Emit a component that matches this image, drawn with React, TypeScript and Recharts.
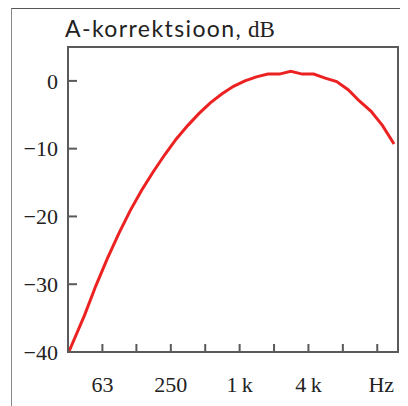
import React from "react";
import { LineChart, Line, XAxis, YAxis, ReferenceArea, CartesianGrid } from "recharts";

// A-weighting correction, read per third-octave step
const freqHz = [
  32, 43.9, 55.3, 69.7, 87.8, 110.6, 139.3, 175.5, 221, 278, 351, 442, 557,
  702, 884, 1113, 1402, 1767, 2226, 2804, 3533, 4451, 5608, 7066, 8903,
  11217, 14132, 17805, 22433,
];
const gainDb = [
  -40, -34.6, -30.2, -26.2, -22.5, -19.1, -16.1, -13.4, -10.9, -8.6, -6.6,
  -4.8, -3.2, -1.9, -0.8, 0, 0.6, 1.0, 1.0, 1.4, 1.0, 1.0, 0.4, -0.1, -1.3,
  -3.0, -4.5, -6.6, -9.3,
];

const xTicks = [63, 125, 250, 500, 1000, 2000, 4000, 8000, 16000];
const xTickLabels: Record<number, string> = {
  63: "63",
  250: "250",
  1000: "1\u2009k",
  4000: "4\u2009k",
  16000: "Hz",
};
const yTicks = [0, -10, -20, -30, -40];

const data = freqHz.map((f, i) => ({ f, db: gainDb[i] }));

const X_DOMAIN: [number, number] = [31.5, 24300];
const Y_DOMAIN: [number, number] = [-40, 5];
const AXIS = "#5a5a5a";
const SERIF = "'Liberation Serif', 'DejaVu Serif', serif";

const fmtDb = (v: number) => (v < 0 ? `\u2212${Math.abs(v)}` : String(v));
const fmtHz = (v: number) => xTickLabels[v] ?? "";

// inward tick mark + label on the left side
function YTick(props: any) {
  const { x, y, payload } = props;
  return (
    <g>
      <rect x={x} y={y - 1} width={9} height={2} fill={AXIS} />
      <text x={x - 10} y={y} dy="0.35em" textAnchor="end" fill="#222">
        {fmtDb(payload.value)}
      </text>
    </g>
  );
}

// inward tick mark + label below the plot
function XTick(props: any) {
  const { x, y, payload } = props;
  const label = fmtHz(payload.value);
  return (
    <g>
      <rect x={x - 1} y={y - 8} width={2} height={8} fill={AXIS} />
      <text x={label === "Hz" ? x + 4 : x} y={y + 40} textAnchor="middle" fill="#222">
        {label}
      </text>
    </g>
  );
}

export default function App() {
  return (
    <div style={{ margin: -8, width: 408, height: 406, fontFamily: SERIF, fontSize: 22 }}>
      <div
        style={{
          marginLeft: 11,
          marginTop: 8,
          width: 396,
          height: 397,
          borderTop: "1px solid #555",
          borderLeft: "1px solid #888",
        }}
      >
        <div
          style={{
            paddingTop: 4,
            paddingLeft: 53,
            height: 30,
            lineHeight: "30px",
            fontSize: 23,
            color: "#222",
            whiteSpace: "nowrap",
          }}
        >
          <span style={{ fontFamily: "Lato, 'Open Sans', sans-serif", letterSpacing: 1.4 }}>
            A-korrektsioon,
          </span>{" "}
          <span>dB</span>
        </div>
        <LineChart
          width={396}
          height={363}
          data={data}
          margin={{ top: 4, right: 10, bottom: 24, left: 6 }}
        >
          <CartesianGrid stroke="none" />
          <XAxis
            dataKey="f"
            type="number"
            scale="log"
            domain={X_DOMAIN}
            ticks={xTicks}
            stroke={AXIS}
            axisLine={{ stroke: AXIS, strokeWidth: 2 }}
            tickLine={false}
            tickSize={0}
            tickMargin={0}
            tickFormatter={fmtHz}
            tick={<XTick />}
            height={30}
          />
          <YAxis
            type="number"
            domain={Y_DOMAIN}
            ticks={yTicks}
            stroke={AXIS}
            axisLine={{ stroke: AXIS, strokeWidth: 2 }}
            tickLine={false}
            tickSize={0}
            tickMargin={0}
            tickFormatter={fmtDb}
            tick={<YTick />}
            width={50}
          />
          <ReferenceArea
            x1={X_DOMAIN[0]}
            x2={X_DOMAIN[1]}
            y1={Y_DOMAIN[0]}
            y2={Y_DOMAIN[1]}
            fill="none"
            stroke={AXIS}
            strokeWidth={2}
            ifOverflow="extendDomain"
          />
          <Line
            type="linear"
            dataKey="db"
            stroke="#ec2222"
            strokeWidth={3}
            dot={false}
            isAnimationActive={false}
          />
        </LineChart>
      </div>
    </div>
  );
}
